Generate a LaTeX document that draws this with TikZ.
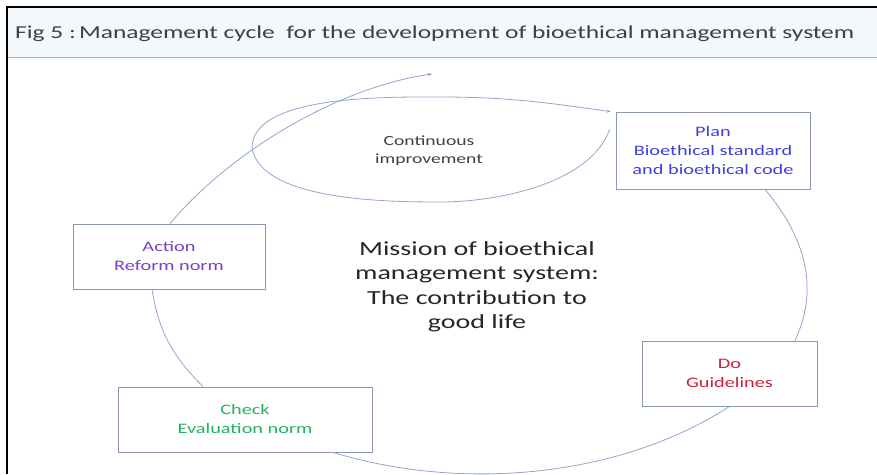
\documentclass[tikz,border=0pt]{standalone}
\usepackage{fontspec}
\setmainfont{Carlito}[FakeStretch=1.4]
\usetikzlibrary{arrows.meta}
\definecolor{cycleblue}{RGB}{143,166,206}
\definecolor{boxgray}{RGB}{138,152,176}
\definecolor{plancol}{RGB}{64,64,222}
\definecolor{docol}{RGB}{204,32,64}
\definecolor{checkcol}{RGB}{38,176,96}
\definecolor{actioncol}{RGB}{122,64,196}
\definecolor{bandcol}{RGB}{243,248,252}
\definecolor{bandline}{RGB}{168,184,204}

\begin{document}
\begin{tikzpicture}
  [x=1pt,y=1pt,every node/.style={align=center,inner sep=0pt,text=black!80},
   stage/.style={draw=boxgray,fill=white,line width=0.8pt,font=\fontsize{14.5}{19}\selectfont},
   cyc/.style={draw=cycleblue,line width=0.8pt},
   tip/.style={-{Stealth[length=4pt,width=3.5pt]}}]
  \useasboundingbox (0,0) rectangle (877,474);
  \fill[bandcol] (7,417) rectangle (877,467);
  \draw[bandline,line width=0.8pt] (7,417) -- (877,417);
  \draw[line width=1.6pt] (877,467) -- (7,467) -- (7,0);

  \node[anchor=west,font=\fontsize{18.2}{22}\selectfont,text=black!75] (title) at (15,440) {Fig 5 :\,Management cycle\ \ for the development of bioethical management system};

  \node[stage,text=plancol,minimum width=194,minimum height=77] (plan) at (713,323.5) {Plan\\Bioethical standard\\and bioethical code};
  \node[stage,text=docol,minimum width=175,minimum height=65] (do) at (729.5,100.5) {Do\\Guidelines};
  \node[stage,text=checkcol,minimum width=254,minimum height=65] (check) at (245,54.5) {Check\\Evaluation norm};
  \node[stage,text=actioncol,minimum width=192,minimum height=65] (action) at (169,217.5) {Action\\Reform norm};
  \node[font=\fontsize{20}{24.5}\selectfont,text=black!85] (mission) at (477,187) {Mission of bioethical\\management system:\\The contribution to\\good life};
  \node[font=\fontsize{14}{18}\selectfont,text=black!75] (improve) at (429,323) {Continuous\\improvement};
  \coordinate (top) at (432,400);

  \draw[cyc] ([xshift=52pt]plan.south) to[out=-50,in=65] ([xshift=65.5pt]do.north);
  \draw[cyc] (do.south) to[out=213,in=-17,looseness=0.85] ([xshift=88pt]check.south);
  \draw[cyc] ([xshift=-42pt]check.north) to[out=135,in=-81] ([xshift=-17pt]action.south);
  \draw[cyc,tip] ([xshift=1pt]action.north) to[out=50,in=188,looseness=0.8] (top);

  \draw[cyc,tip] ([xshift=-6pt,yshift=-18pt]plan.north west) to[out=-110,in=0,looseness=0.8] (440,272)
    to[out=180,in=-80,looseness=0.7] (252,326) to[out=90,in=180,looseness=0.7] (440,377)
    to[out=0,in=172] ([xshift=-5pt]plan.north west);
\end{tikzpicture}
\end{document}
